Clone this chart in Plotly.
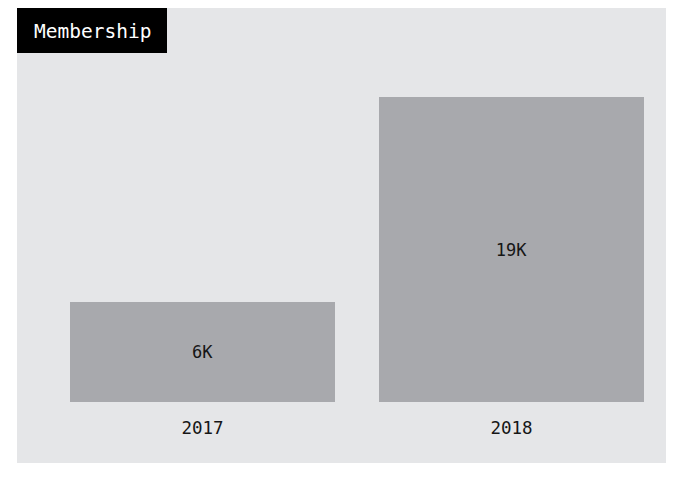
import plotly.graph_objects as go

years = ["2017", "2018"]
members = [6200, 18900]
labels = ["6K", "19K"]
title_text = "Membership"

# page body adds an 8px offset; figure sized so its paper ends where the grey panel ends
W, H = 658, 455
BG = "#e5e6e8"
BAR = "#a8a9ad"
INK = "#161616"
FONT = "DejaVu Sans Mono"

fig = go.Figure(
    go.Bar(
        x=years,
        y=members,
        text=labels,
        textposition="inside",
        insidetextanchor="middle",
        textfont=dict(family=FONT, size=17, color=INK),
        marker=dict(color=BAR, line=dict(width=0)),
        hoverinfo="skip",
    )
)

fig.update_layout(
    width=W,
    height=H,
    margin=dict(l=0, r=0, t=0, b=0),
    paper_bgcolor=BG,
    plot_bgcolor="rgba(0,0,0,0)",
    bargap=44 / 309,
    showlegend=False,
    xaxis=dict(
        domain=[40 / W, 1],
        showgrid=False,
        zeroline=False,
        showline=False,
        ticks="outside",
        ticklen=10,
        tickcolor="rgba(0,0,0,0)",
        tickfont=dict(family=FONT, size=17.5, color=INK),
    ),
    yaxis=dict(
        domain=[(H - 394) / H, (H - 89) / H],
        range=[0, max(members)],
        visible=False,
    ),
    shapes=[
        dict(type="rect", xref="paper", yref="paper", layer="below",
             x0=0, x1=9 / W, y0=0, y1=1,
             fillcolor="white", line=dict(width=0)),
        dict(type="rect", xref="paper", yref="paper", layer="above",
             x0=9 / W, x1=159 / W, y0=1 - 45 / H, y1=1,
             fillcolor="black", line=dict(width=0)),
    ],
    annotations=[
        dict(text=title_text, xref="paper", yref="paper",
             x=84 / W, y=1 - 23 / H, showarrow=False,
             xanchor="center", yanchor="middle",
             font=dict(family=FONT, size=19.5, color="white")),
    ],
)

fig.write_html("out.html")
